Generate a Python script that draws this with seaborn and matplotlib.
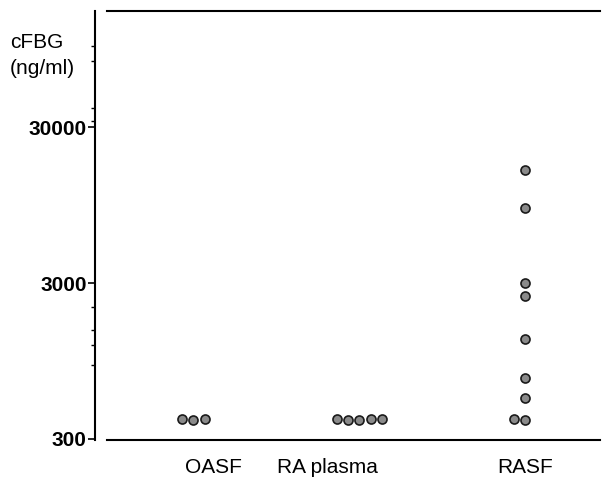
import pandas as pd
import matplotlib
matplotlib.use("Agg")
import matplotlib.pyplot as plt
import matplotlib.ticker as mticker
import seaborn as sns

# cFBG values (ng/ml)
oasf = [400, 402, 398]
ra_plasma = [400, 401, 399, 402, 398]
rasf = [16000, 9100, 3000, 2500, 1320, 740, 550, 402, 398]

groups = ["OASF", "RA plasma", "RASF"]
yticks = [300, 3000, 30000]

df = pd.DataFrame({
    "group": ["OASF"] * len(oasf) + ["RA plasma"] * len(ra_plasma) + ["RASF"] * len(rasf),
    "cFBG": oasf + ra_plasma + rasf,
})

sns.set_style("ticks")
plt.rcParams["font.family"] = ["Liberation Sans", "DejaVu Sans"]

fig = plt.figure(figsize=(6.07, 4.78), dpi=100)
ax = fig.add_axes([107 / 607, 38 / 478, 493 / 607, 429 / 478])
ax.set_yscale("log")

sns.swarmplot(data=df, x="group", y="cFBG", order=groups, ax=ax,
              color="#8a8a8a", edgecolor="#1a1a1a", linewidth=1.2, size=6.5)

ax.set_ylim(295, 168000)
ax.set_xlim(-0.52, 2.45)

# tick labels sit a little off the point columns in the original
ax.set_xticks([0.12, 0.81, 2.0])
ax.set_xticklabels(groups)

ax.yaxis.set_major_locator(mticker.FixedLocator(yticks))
ax.yaxis.set_major_formatter(mticker.FixedFormatter([str(v) for v in yticks]))
minor = [900, 1200, 1500, 2100, 33000, 40000, 80000, 100000]
ax.yaxis.set_minor_locator(mticker.FixedLocator(minor))
ax.yaxis.set_minor_formatter(mticker.NullFormatter())

for s in ["left", "bottom", "top"]:
    ax.spines[s].set_color("black")
    ax.spines[s].set_linewidth(1.5)
ax.spines["right"].set_visible(False)
ax.spines["left"].set_position(("outward", 8.5))

ax.tick_params(axis="y", which="major", length=5, width=1.2, labelsize=15, pad=1,
               colors="black")
ax.tick_params(axis="y", which="minor", length=3, width=1, colors="black")
ax.tick_params(axis="x", length=0, labelsize=15, pad=13, labelcolor="black")
for lab in ax.get_yticklabels():
    lab.set_fontweight("bold")

ax.set_xlabel("")
ax.set_ylabel("")
fig.text(10 / 607, 1 - 42 / 478, "cFBG", fontsize=15, va="center", ha="left", color="black")
fig.text(10 / 607, 1 - 68 / 478, "(ng/ml)", fontsize=15, va="center", ha="left", color="black")

fig.savefig("out.png", dpi=100)
